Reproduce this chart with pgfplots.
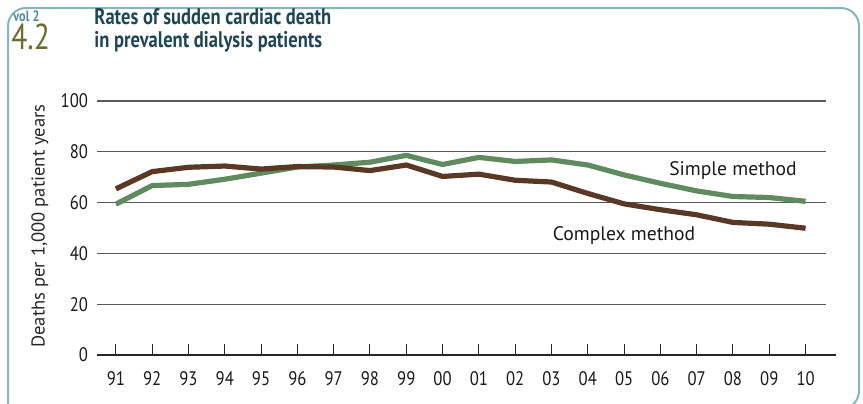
\documentclass[border=0pt]{standalone}
\usepackage{pgfplots}
\pgfplotsset{compat=1.18}
\usepackage{fontspec}
\setmainfont{PT Sans}
\newfontfamily\titlefont[FakeStretch=0.82]{PT Sans}
\newfontfamily\numfont[FakeStretch=0.85]{PT Sans}
\definecolor{simplec}{HTML}{5F8B5E}
\definecolor{complexc}{HTML}{5A3826}
\definecolor{titlec}{HTML}{1F4655}
\definecolor{olivec}{HTML}{6E6A2C}
\definecolor{volc}{HTML}{4E8C9A}
\definecolor{framec}{HTML}{86B5BC}
\begin{document}
\begin{tikzpicture}
\useasboundingbox (0,0) rectangle (431.5pt,201.5pt);
% frame
\draw[framec, line width=1pt, rounded corners=9pt] (4pt,-5pt) -- (4pt,197.5pt) -- (429.5pt,197.5pt) -- (429.5pt,-3pt) -- (400pt,-3pt);
% title
\node[anchor=north west, inner sep=0pt, text=volc, font=\titlefont\bfseries\fontsize{7.5}{8}\selectfont] at (6.5pt,196.5pt) {vol 2};
\node[anchor=north west, inner sep=0pt, text=olivec, font=\titlefont\fontsize{18}{19}\selectfont] at (5.5pt,190pt) {4.2};
\node[anchor=north west, inner sep=0pt, text=titlec, align=left, font=\titlefont\bfseries\fontsize{11.3}{11.5}\selectfont] at (47pt,197.5pt) {Rates of sudden cardiac death\\in prevalent dialysis patients};
% y label
\node[rotate=90, text=black!85, font=\fontsize{9.3}{10}\selectfont] at (20pt,88.5pt) {Deaths per 1,000 patient years};
\begin{axis}[
  at={(48.5pt,24pt)}, anchor=south west,
  scale only axis,
  x=18.15pt, y=1.27pt,
  xmin=-0.52, xmax=19.55, ymin=0, ymax=100,
  axis line style={draw=none},
  axis x line*=bottom,
  axis y line*=left,
  clip=false,
  ymajorgrids, grid style={black!65, line width=0.6pt},
  ytick={0,20,40,60,80,100},
  xtick={0,...,19},
  xticklabels={91,92,93,94,95,96,97,98,99,00,01,02,03,04,05,06,07,08,09,10},
  tick align=inside,
  major tick length=5.5pt,
  xtick style={black!85, line width=0.5pt},
  ytick style={draw=none},
  tick label style={text=black!90, font=\numfont\fontsize{9.8}{10}\selectfont},
  yticklabel style={xshift=-1pt},
  xticklabel style={yshift=-4.5pt},
  /pgf/number format/assume math mode=true,
]
\draw[black!85, line width=0.8pt] (axis cs:-0.52,0) -- (axis cs:19.85,0);
\addplot[simplec, line width=2.6pt, line join=round] coordinates {
(0,59.4) (1,66.7) (2,67.2) (3,69.2) (4,71.6) (5,74.0) (6,74.8) (7,75.9) (8,78.6) (9,75.0)
(10,77.8) (11,76.2) (12,76.8) (13,74.8) (14,70.9) (15,67.6) (16,64.6) (17,62.4) (18,62.0) (19,60.5)};
\addplot[complexc, line width=2.6pt, line join=round] coordinates {
(0,65.4) (1,72.2) (2,73.9) (3,74.4) (4,73.2) (5,74.2) (6,74.0) (7,72.6) (8,74.8) (9,70.3)
(10,71.2) (11,68.8) (12,68.1) (13,63.6) (14,59.5) (15,57.2) (16,55.2) (17,52.2) (18,51.5) (19,49.9)};
\node[font=\fontsize{9.8}{10}\selectfont, text=black!90] at (axis cs:17.0,72.8) {Simple method};
\node[font=\fontsize{9.8}{10}\selectfont, text=black!90] at (axis cs:14.0,46.9) {Complex method};
\end{axis}
\end{tikzpicture}
\end{document}
